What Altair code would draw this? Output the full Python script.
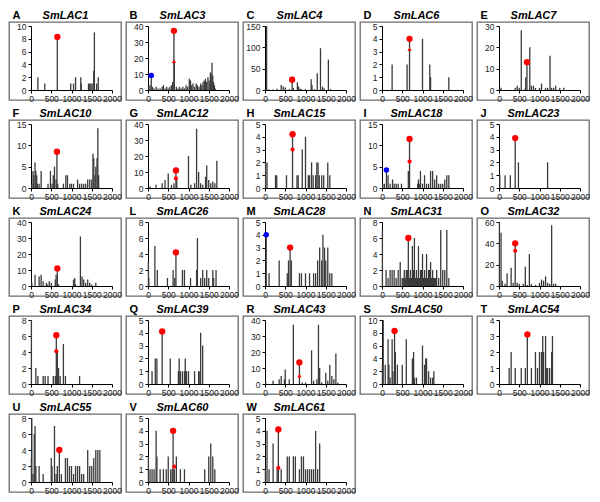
import altair as alt
import pandas as pd

LETTERS = list("ABCDEFGHIJKLMNOPQRSTUVW")
GENES = ["SmLAC1", "SmLAC3", "SmLAC4", "SmLAC6", "SmLAC7", "SmLAC10", "SmLAC12",
         "SmLAC15", "SmLAC18", "SmLAC23", "SmLAC24", "SmLAC26", "SmLAC28", "SmLAC31",
         "SmLAC32", "SmLAC34", "SmLAC39", "SmLAC43", "SmLAC50", "SmLAC54", "SmLAC55",
         "SmLAC60", "SmLAC61"]
Y_MAX = [10, 40, 150, 5, 30, 15, 40, 5, 15, 5, 40, 8, 5, 8, 60, 8, 5, 40, 10, 4, 8, 5, 5]
Y_STEP = [2, 10, 50, 1, 10, 5, 10, 1, 5, 1, 10, 2, 1, 2, 20, 2, 1, 10, 2, 1, 2, 1, 1]
X_TICKS = [0, 500, 1000, 1500, 2000]

# spikes: (position, count)
SPIKES_A = [(170, 2), (340, 1), (650, 8.3), (980, 1), (1050, 1), (1100, 2), (1230, 2), (1240, 1),
            (1420, 1), (1450, 1), (1480, 1), (1510, 1), (1550, 3), (1565, 9), (1620, 1), (1660, 2)]
SPIKES_B = [(20, 2), (50, 3), (80, 9), (110, 2), (150, 1), (200, 2), (250, 1), (300, 1), (350, 2),
            (380, 3), (420, 1), (460, 2), (500, 1), (540, 2), (580, 3), (610, 5), (640, 37), (650, 17),
            (700, 2), (740, 1), (780, 2), (820, 1), (860, 2), (900, 1), (940, 3), (980, 2), (1020, 7),
            (1050, 6), (1080, 3), (1110, 4), (1150, 2), (1190, 4), (1220, 3), (1260, 2), (1300, 4),
            (1330, 3), (1360, 5), (1390, 6), (1420, 7), (1450, 5), (1480, 8), (1510, 6), (1540, 11),
            (1560, 10), (1580, 17), (1600, 9), (1620, 5), (1640, 3), (1660, 1)]
SPIKES_C = [(40, 150), (100, 2), (200, 1), (300, 3), (400, 12), (450, 8), (500, 6), (600, 2),
            (670, 24), (700, 5), (800, 18), (830, 8), (870, 3), (900, 2), (1000, 2), (1140, 25),
            (1160, 12), (1220, 2), (1290, 39), (1370, 98), (1420, 8), (1460, 4), (1565, 71), (1620, 2)]
SPIKES_D = [(250, 2), (620, 2), (680, 4), (1000, 4), (1180, 2), (1200, 1), (1650, 1)]
SPIKES_E = [(50, 1), (400, 1), (450, 2), (500, 1), (550, 28), (650, 1), (660, 6), (690, 13),
            (760, 20), (800, 2), (850, 2), (900, 1), (1000, 1), (1050, 3), (1150, 1), (1200, 1),
            (1260, 16), (1300, 1), (1350, 1), (1400, 2), (1500, 1), (1600, 1)]
SPIKES_F = [(20, 1), (50, 4), (70, 3), (100, 6), (120, 4), (140, 3), (160, 1), (200, 1), (250, 4),
            (420, 1), (480, 4), (520, 1), (550, 3), (580, 5), (620, 2), (640, 8.5), (660, 1),
            (800, 1), (860, 3), (900, 3), (960, 1), (1000, 1), (1050, 1), (1150, 2), (1200, 1),
            (1250, 1), (1300, 1), (1350, 1), (1400, 2), (1450, 2), (1500, 2), (1530, 8), (1550, 7),
            (1580, 3), (1600, 5), (1630, 7), (1650, 14), (1670, 3)]
SPIKES_G = [(50, 1), (200, 2), (350, 3), (420, 5), (500, 9), (580, 2), (640, 3), (690, 11),
            (710, 5), (1000, 20), (1060, 2), (1150, 3), (1200, 37), (1250, 10), (1300, 3),
            (1350, 2), (1420, 7), (1450, 14), (1500, 5), (1550, 3), (1600, 4), (1650, 3), (1700, 17)]
SPIKES_H = [(15, 2), (50, 2), (260, 1), (290, 1), (530, 1), (680, 4.2), (790, 1), (820, 1),
            (920, 3), (1000, 4), (1070, 1), (1100, 1), (1150, 2), (1190, 1), (1250, 1), (1280, 2),
            (1310, 2), (1340, 1), (1400, 1), (1450, 1), (1550, 2), (1600, 1)]
SPIKES_I = [(20, 1), (60, 1), (110, 4), (150, 3), (200, 1), (260, 2), (300, 1), (350, 1), (400, 1),
            (480, 1), (650, 4), (680, 11.5), (880, 1), (900, 2), (920, 1), (950, 4), (1000, 1),
            (1050, 3), (1100, 1), (1150, 1), (1200, 4), (1250, 4), (1300, 2), (1350, 3), (1400, 1),
            (1450, 1), (1500, 1), (1550, 2), (1600, 3), (1650, 3)]
SPIKES_J = [(20, 1), (150, 1), (280, 1), (400, 3.9), (480, 2), (1200, 2)]
SPIKES_K = [(20, 2), (100, 7), (200, 6), (250, 7), (300, 3), (380, 2), (400, 1), (450, 3), (500, 2),
            (600, 4), (620, 7), (650, 11), (680, 1), (1050, 4), (1080, 5), (1100, 1), (1220, 31),
            (1260, 6), (1300, 4), (1350, 2), (1400, 4), (1450, 2), (1500, 1), (1600, 2)]
SPIKES_L = [(10, 3), (20, 1), (170, 5), (230, 2), (480, 1), (620, 2), (660, 1), (690, 4.2),
            (850, 2), (900, 2), (1050, 1), (1200, 2), (1220, 6), (1300, 1), (1350, 2), (1400, 1),
            (1450, 2), (1500, 1), (1600, 2), (1620, 1), (1680, 2)]
SPIKES_M = [(30, 4), (100, 1), (350, 2), (550, 1), (580, 2), (620, 3), (650, 2), (850, 1), (900, 1),
            (1000, 1), (1100, 1), (1200, 1), (1250, 1), (1300, 2), (1350, 3), (1400, 2), (1430, 4),
            (1470, 3), (1500, 2), (1550, 3), (1600, 1), (1650, 1)]
SPIKES_N = [(10, 7), (100, 2), (150, 1), (200, 2), (250, 2), (300, 2), (350, 1), (400, 2), (450, 3),
            (500, 1), (525, 1), (550, 2), (575, 1), (600, 2), (625, 2), (650, 6), (675, 1), (700, 2),
            (725, 1), (750, 5), (775, 2), (800, 6), (825, 1), (850, 2), (875, 1), (900, 5), (925, 1),
            (950, 2), (975, 2), (1000, 4), (1025, 1), (1050, 2), (1075, 1), (1100, 4), (1125, 1),
            (1150, 2), (1175, 2), (1200, 3), (1225, 1), (1250, 2), (1275, 1), (1300, 1), (1325, 1),
            (1350, 2), (1400, 1), (1450, 7), (1500, 2), (1550, 2), (1600, 7), (1650, 1)]
SPIKES_O = [(10, 60), (50, 50), (80, 5), (150, 2), (200, 12), (300, 17), (350, 3), (400, 40),
            (450, 3), (500, 2), (600, 2), (650, 18), (700, 1), (750, 30), (800, 2), (900, 1),
            (1000, 3), (1050, 6), (1100, 5), (1150, 9), (1200, 3), (1250, 2), (1300, 57), (1350, 2),
            (1400, 2)]
SPIKES_P = [(10, 8), (120, 2), (170, 1), (300, 1), (350, 1), (420, 1), (550, 1), (600, 1),
            (625, 6.1), (650, 4), (680, 2), (720, 1), (800, 5), (850, 1), (1200, 1)]
SPIKES_Q = [(10, 1), (100, 1), (180, 2), (220, 2), (350, 4.1), (550, 2), (750, 1), (770, 2),
            (800, 1), (850, 1), (900, 1), (920, 2), (950, 1), (1000, 1), (1150, 1), (1250, 1),
            (1280, 1), (1300, 4), (1350, 3)]
SPIKES_R = [(20, 1), (200, 2), (350, 3), (400, 5), (480, 3), (500, 9), (600, 3), (700, 37),
            (850, 13.5), (920, 1), (1000, 1), (1150, 21), (1200, 2), (1280, 3), (1320, 37),
            (1350, 10), (1400, 1), (1500, 7), (1550, 2), (1600, 12), (1650, 5), (1700, 3),
            (1750, 19), (1800, 1)]
SPIKES_S = [(10, 3), (30, 10), (80, 3), (150, 7), (170, 3), (200, 1), (250, 7), (270, 2),
            (310, 8.3), (330, 5), (380, 3), (500, 3), (600, 7), (750, 4), (780, 5), (800, 1),
            (850, 1), (1000, 6), (1050, 3), (1080, 4), (1100, 4), (1150, 2), (1200, 1), (1250, 1),
            (1280, 2)]
SPIKES_T = [(250, 1), (300, 2), (400, 1), (550, 1), (650, 1), (700, 3.1), (800, 1), (900, 2),
            (950, 1), (1000, 2), (1050, 2), (1080, 3), (1100, 2), (1150, 3), (1180, 1), (1200, 1),
            (1250, 1), (1300, 2), (1320, 3)]
SPIKES_U = [(10, 3), (20, 8), (50, 1), (80, 6), (100, 7), (120, 2), (200, 2), (300, 1), (500, 3),
            (520, 2), (580, 7), (620, 1), (650, 2), (700, 4), (750, 1), (850, 3), (900, 3), (950, 2),
            (1000, 2), (1050, 1), (1100, 2), (1150, 2), (1200, 2), (1250, 1), (1300, 1), (1400, 4),
            (1450, 2), (1500, 2), (1550, 3), (1600, 4), (1650, 4), (1700, 4)]
SPIKES_V = [(10, 2), (50, 1), (100, 1), (150, 1), (200, 4), (220, 2), (300, 1), (380, 1), (450, 1),
            (500, 2), (560, 1), (600, 1), (620, 4), (650, 1), (700, 2), (800, 1), (900, 1),
            (1400, 1), (1500, 2), (1550, 3), (1600, 2), (1650, 1)]
SPIKES_W = [(10, 1), (50, 4), (100, 1), (200, 3), (300, 1), (330, 4.1), (400, 1), (550, 2),
            (600, 2), (700, 2), (750, 2), (850, 1), (900, 2), (950, 2), (1000, 1), (1050, 1),
            (1100, 1), (1150, 1), (1200, 1), (1250, 4), (1300, 1), (1350, 3)]

# red main markers (one per panel, in LETTERS order)
RED_BIG_X = [650, 640, 670, 680, 690, 640, 690, 680, 680, 400, 650, 690, 620, 650, 400, 625,
             350, 850, 310, 700, 700, 620, 330]
RED_BIG_Y = [8.3, 37, 24, 4, 13, 8.5, 11, 4.2, 11.5, 3.9, 11, 4.2, 3, 6, 40, 6.1, 4.1, 13.5,
             8.3, 3.1, 4, 4, 4.1]
# secondary red markers
RED_SMALL_PANEL = ["B", "D", "G", "H", "I", "O", "P", "R", "V", "W"]
RED_SMALL_X = [640, 680, 690, 680, 680, 400, 625, 850, 650, 330]
RED_SMALL_Y = [18, 3.2, 6, 3, 6.2, 33, 4.1, 5.2, 1.2, 1.1]
RED_SMALL_SHAPE = ["triangle-up", "triangle-up", "circle", "circle", "circle", "circle",
                   "circle", "triangle-up", "circle", "circle"]
# blue markers
BLUE_PANEL = ["B", "I", "M"]
BLUE_X = [80, 110, 30]
BLUE_Y = [9, 4.2, 4]

W, H = 112, 78
X0, X1 = 22, 103
Y0, Y1 = 68, 4
FONT = "Liberation Sans"


def panel(i):
    L = LETTERS[i]
    sp = globals()["SPIKES_" + L]
    df = pd.DataFrame({"pos": [p for p, _ in sp], "h": [h for _, h in sp], "base": 0})
    xs = alt.Scale(domain=[0, 2000], range=[X0, X1], nice=False, zero=False)
    ys = alt.Scale(domain=[0, Y_MAX[i]], range=[Y0, Y1], nice=False)
    xaxis = alt.Axis(values=X_TICKS, format="d", offset=-(H - Y0), title=GENES[i], titleX=W / 2,
                     titleY=-Y0 - 4, titleAlign="center", titleBaseline="alphabetic",
                     titleFontStyle="italic", titleFontWeight="bold", titleFontSize=11,
                     labelOverlap=False, labelFlush=False, grid=False, labelPadding=1)
    yaxis = alt.Axis(values=list(range(0, Y_MAX[i] + 1, Y_STEP[i])), format="d", offset=-X0,
                     title=L, titleAngle=0, titleX=-X0 + 3, titleY=-4, titleAlign="left",
                     titleBaseline="alphabetic", titleFontWeight="bold", titleFontSize=11,
                     labelOverlap=False, grid=False, labelPadding=2)
    enc = dict(x=alt.X("pos:Q", scale=xs, axis=xaxis), y=alt.Y("h:Q", scale=ys, axis=yaxis))
    layers = [alt.Chart(df).mark_rule(color="#3a3a3a", strokeWidth=1.3).encode(
        y2="base:Q", **enc)]
    blue = [(x, y) for p, x, y in zip(BLUE_PANEL, BLUE_X, BLUE_Y) if p == L]
    if blue:
        bdf = pd.DataFrame({"pos": [b[0] for b in blue], "h": [b[1] for b in blue]})
        layers.append(alt.Chart(bdf).mark_point(filled=True, color="#0000ff", size=30,
                                                opacity=1).encode(**enc))
    small = [(x, y, s) for p, x, y, s in zip(RED_SMALL_PANEL, RED_SMALL_X, RED_SMALL_Y,
                                               RED_SMALL_SHAPE) if p == L]
    for x, y, s in small:
        sdf = pd.DataFrame({"pos": [x], "h": [y]})
        layers.append(alt.Chart(sdf).mark_point(filled=True, color="#ff0000", size=18,
                                                shape=s, opacity=1).encode(**enc))
    rdf = pd.DataFrame({"pos": [RED_BIG_X[i]], "h": [RED_BIG_Y[i]]})
    layers.append(alt.Chart(rdf).mark_point(filled=True, color="#ff0000", size=40,
                                            opacity=1).encode(**enc))
    return alt.layer(*layers).properties(width=W, height=H)


rows = []
for r in range(5):
    idx = [i for i in range(r * 5, min(r * 5 + 5, len(LETTERS)))]
    rows.append(alt.hconcat(*[panel(i) for i in idx], spacing=5, bounds="flush"))

chart = alt.vconcat(*rows, spacing=2).properties(padding=0).configure(
    font=FONT
).configure_view(
    stroke="#6b6b6b", strokeWidth=1.3
).configure_axis(
    domainColor="#000000", tickColor="#000000", tickSize=3, labelFontSize=8.5,
    labelColor="#222222", labelFont=FONT, titleFont=FONT, titleColor="#000000",
    domainWidth=1
)

chart.save("out.html", embed_options={"renderer": "svg", "actions": False})
